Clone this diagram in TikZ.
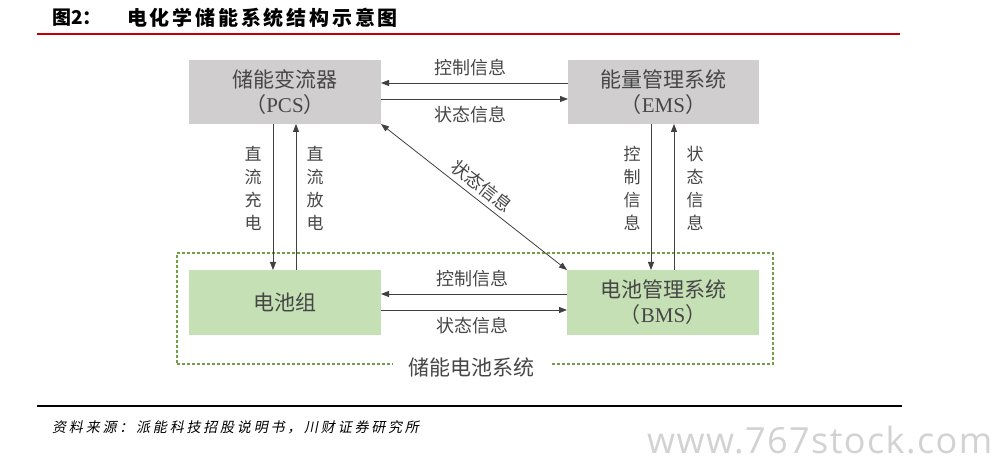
\documentclass[tikz,border=0pt]{standalone}
\usepackage{fontspec}
\setmainfont{Liberation Serif}
\newfontfamily\cjk{Noto Sans CJK SC}
\newfontfamily\cjktitle[LetterSpace=14]{Noto Sans CJK SC}
\newfontfamily\cjksrc[FakeSlant=0.2,LetterSpace=20]{Noto Sans CJK SC}
\newfontfamily\wm[LetterSpace=4]{Open Sans}
\usetikzlibrary{arrows.meta}
\definecolor{boxgray}{RGB}{208,206,206}
\definecolor{boxgreen}{RGB}{197,224,180}
\definecolor{dashgreen}{RGB}{112,160,70}
\definecolor{txt}{RGB}{70,70,70}
\definecolor{linecol}{RGB}{64,64,64}
\definecolor{titlered}{RGB}{192,0,0}
\definecolor{wmgray}{RGB}{210,210,210}
\begin{document}
\begin{tikzpicture}[x=1pt,y=-1pt,
  box/.style={rectangle, minimum width=192pt, minimum height=64pt, inner sep=0pt, outer sep=0pt, align=center, text=txt, font=\fontsize{21}{25}\selectfont},
  grayb/.style={box, fill=boxgray},
  greenb/.style={box, fill=boxgreen, minimum height=65pt},
  arr/.style={draw=linecol, line width=0.8pt, -{Triangle[length=8pt,width=6pt]}},
  dblarr/.style={draw=linecol, line width=0.8pt, {Triangle[length=8pt,width=6pt]}-{Triangle[length=8pt,width=6pt]}},
  lbl/.style={text=txt, font=\cjk\fontsize{18}{20}\selectfont, inner sep=0pt},
  vlbl/.style={text=txt, font=\cjk\fontsize{17}{23}\selectfont, align=center, inner sep=0pt},
]
\useasboundingbox (0,0) rectangle (996,470);

% title
\node[anchor=west, inner sep=0pt, font=\cjk\bfseries\fontsize{19}{20}\selectfont] (fig) at (52,18) {图2：};
\node[anchor=west, inner sep=0pt, font=\cjktitle\bfseries\fontsize{20}{21}\selectfont] (title) at (127,18) {电化学储能系统结构示意图};
\draw[titlered, line width=2pt] (37,34) -- (900,34);

% system frame
\node[draw=dashgreen, dash pattern=on 3pt off 2pt, line width=1.2pt, minimum width=596pt, minimum height=111pt, inner sep=0pt] (sys) at (475,308.5) {};
\node[fill=white, inner xsep=16pt, inner ysep=2pt, text=txt, font=\cjk\fontsize{21}{22}\selectfont] (syslbl) at (471.5,367) {储能电池系统};

% boxes
\node[grayb] (pcs) at (285,92) {{\cjk 储能变流器}\\{\cjk （}PCS{\cjk ）}};
\node[grayb, minimum width=191pt] (ems) at (663.5,92) {{\cjk 能量管理系统}\\{\cjk （}EMS{\cjk ）}};
\node[greenb] (bat) at (285,302.5) {\cjk 电池组};
\node[greenb] (bms) at (663,302.5) {{\cjk 电池管理系统}\\{\cjk （}BMS{\cjk ）}};

% horizontal arrows
\draw[arr] (ems.west |- 0,83) -- (pcs.east |- 0,83);
\draw[arr] (pcs.east |- 0,99) -- (ems.west |- 0,99);
\draw[arr] (bms.west |- 0,294) -- (bat.east |- 0,294);
\draw[arr] (bat.east |- 0,310) -- (bms.west |- 0,310);
% vertical arrows
\draw[arr] (pcs.south -| 273,0) -- (bat.north -| 273,0);
\draw[arr] (bat.north -| 296,0) -- (pcs.south -| 296,0);
\draw[arr] (ems.south -| 651,0) -- (bms.north -| 651,0);
\draw[arr] (bms.north -| 674,0) -- (ems.south -| 674,0);
% diagonal
\draw[dblarr] (pcs.south east) -- (bms.north west);

% labels
\node[lbl] (t1) at (470,68) {控制信息};
\node[lbl] (t2) at (470,115) {状态信息};
\node[lbl] (b1) at (472,279) {控制信息};
\node[lbl] (b2) at (472,326) {状态信息};
\node[lbl, rotate=-38] (d1) at (482,186) {状态信息};
\node[vlbl] (v1) at (253,188) {直\\流\\充\\电};
\node[vlbl] (v2) at (315,188) {直\\流\\放\\电};
\node[vlbl] (v3) at (632,188) {控\\制\\信\\息};
\node[vlbl] (v4) at (695,188) {状\\态\\信\\息};

% source
\draw[black, line width=1.2pt] (37,406) -- (902,406);
\node[anchor=west, inner sep=0pt, font=\cjksrc\fontsize{14}{15}\selectfont] (src) at (52,427) {资料来源：派能科技招股说明书，川财证券研究所};
\node[anchor=base west, inner sep=0pt, text=wmgray, font=\wm\fontsize{36}{40}\selectfont] (wmk) at (647,453) {www.767stock.com};
\end{tikzpicture}
\end{document}
